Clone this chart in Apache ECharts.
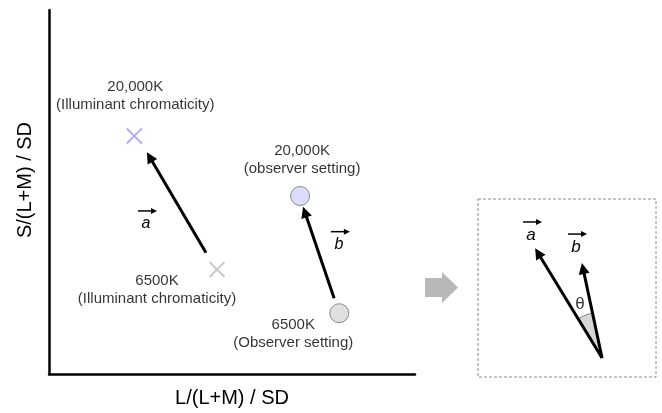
<!DOCTYPE html>
<html>
<head>
<meta charset="utf-8">
<script src="https://cdn.jsdelivr.net/npm/echarts@6/dist/echarts.min.js"></script>
<style>
  html, body { margin: 0; padding: 0; background: #fff; }
  #chart { width: 662px; height: 413px; }
</style>
</head>
<body>
<div id="chart"></div>
<script>
// left panel: both axes run 0..100 (no ticks shown)
const illumPts = [[23.3, 65.4], [45.9, 28.7]];
const illumNames = ['20,000K\n(Illuminant chromaticity)', '6500K\n(Illuminant chromaticity)'];
const observerPts = [[68.6, 48.9], [79.3, 16.7]];
const observerNames = ['20,000K\n(observer setting)', '6500K\n(Observer setting)'];
const vecA = [[42.9, 33.3], [27.5, 59.6]];
const vecB = [[77.9, 20.8], [69.9, 44.5]];
const vecMarks = [[26.5, 44.8], [79.2, 39.1]];
const vecMarkNames = ['a', 'b'];

// right panel (inset), also 0..100
const insetOrigin = [69.7, 10.7];
const insetA = [33.7, 69.7];
const insetB = [59.0, 61.0];
const insetMarks = [[29.8, 87.1], [55.1, 80.3]];
const thetaPos = [57.3, 41.0];
const bigArrowPos = [-20.5, 50.3];

const FONT = 'Liberation Sans';

const illumColors = ['#9d9df0', '#bcbcbc'];
const obsColors = ['#d3d3fb', '#d8d8d8'];
const illumOffsets = [[1, -40], [-60, 20]];
const obsOffsets = [[2, -36], [-46, 21]];

function textItems(pts, names, offsets, colors, key) {
  return pts.map((p, i) => ({
    value: p,
    name: names[i],
    itemStyle: key === 'cross'
      ? { color: 'rgba(0,0,0,0)', borderColor: colors[i], borderWidth: 2 }
      : { color: colors[i], borderColor: '#707070', borderWidth: 1 },
    label: { offset: offsets[i] }
  }));
}

// small arrow drawn over the vector letter
function vecLabelRenderer(names, size) {
  return function (params, api) {
    const p = api.coord([api.value(0), api.value(1)]);
    const x = p[0], y = p[1];
    return {
      type: 'group',
      children: [
        { type: 'line', shape: { x1: x - 8, y1: y, x2: x + 6, y2: y },
          style: { stroke: '#000', lineWidth: 1.5 } },
        { type: 'polygon', shape: { points: [[x + 11, y], [x + 5, y - 3], [x + 5, y + 3]] },
          style: { fill: '#000' } },
        { type: 'text', style: { x: x, y: y + 13, text: names[params.dataIndex],
          font: 'italic ' + size + 'px ' + FONT, fill: '#000', align: 'center', verticalAlign: 'middle' } }
      ]
    };
  };
}

const arrowStyle = { color: '#000', width: 3, opacity: 1, curveness: 0 };
const labelStyle = { show: true, position: 'inside', formatter: '{b}', fontSize: 15, lineHeight: 18,
  color: '#000', fontFamily: FONT, align: 'center', verticalAlign: 'middle' };

const option = {
  animation: false,
  backgroundColor: '#fff',
  textStyle: { fontFamily: FONT },
  grid: [
    { left: 49, top: 10, width: 366, height: 366 },
    { left: 478, top: 199, width: 178, height: 178, show: true,
      borderColor: '#8c8c8c', borderWidth: 1, borderType: [3, 2], backgroundColor: '#fff' }
  ],
  xAxis: [
    { type: 'value', gridIndex: 0, min: 0, max: 100,
      name: 'L/(L+M) / SD', nameLocation: 'middle', nameGap: 14,
      nameTextStyle: { fontSize: 20, color: '#000', fontFamily: FONT },
      axisLine: { lineStyle: { color: '#000', width: 2.5 } },
      axisTick: { show: false }, axisLabel: { show: false }, splitLine: { show: false } },
    { type: 'value', gridIndex: 1, min: 0, max: 100, show: false }
  ],
  yAxis: [
    { type: 'value', gridIndex: 0, min: 0, max: 100,
      name: 'S/(L+M) / SD', nameLocation: 'middle', nameGap: 14,
      nameTextStyle: { fontSize: 20, color: '#000', fontFamily: FONT, padding: [0, 0, 0, 24] },
      axisLine: { lineStyle: { color: '#000', width: 2.5 } },
      axisTick: { show: false }, axisLabel: { show: false }, splitLine: { show: false } },
    { type: 'value', gridIndex: 1, min: 0, max: 100, show: false }
  ],
  series: [
    {
      type: 'scatter', xAxisIndex: 0, yAxisIndex: 0,
      symbol: 'path://M0,0L20,20M20,0L0,20', symbolSize: 15,
      data: textItems(illumPts, illumNames, illumOffsets, illumColors, 'cross'),
      label: labelStyle
    },
    {
      type: 'scatter', xAxisIndex: 0, yAxisIndex: 0,
      symbol: 'circle', symbolSize: 19,
      data: textItems(observerPts, observerNames, obsOffsets, obsColors, 'circle'),
      label: labelStyle
    },
    {
      type: 'lines', coordinateSystem: 'cartesian2d', xAxisIndex: 0, yAxisIndex: 0,
      symbol: ['none', 'triangle'], symbolSize: 11,
      lineStyle: arrowStyle,
      data: [{ coords: vecA }, { coords: vecB }]
    },
    {
      type: 'custom', xAxisIndex: 0, yAxisIndex: 0,
      renderItem: vecLabelRenderer(vecMarkNames, 16),
      data: vecMarks
    },
    // inset
    {
      type: 'custom', xAxisIndex: 1, yAxisIndex: 1,
      renderItem: function (params, api) {
        const o = api.coord([api.value(0), api.value(1)]);
        const a = api.coord([api.value(2), api.value(3)]);
        const b = api.coord([api.value(4), api.value(5)]);
        return {
          type: 'sector',
          shape: { cx: o[0], cy: o[1], r0: 0, r: 46,
            startAngle: Math.atan2(a[1] - o[1], a[0] - o[0]),
            endAngle: Math.atan2(b[1] - o[1], b[0] - o[0]), clockwise: true },
          style: { fill: '#d6d6d6', stroke: '#8a8a8a', lineWidth: 1 }
        };
      },
      data: [insetOrigin.concat(insetA, insetB)]
    },
    {
      type: 'lines', coordinateSystem: 'cartesian2d', xAxisIndex: 1, yAxisIndex: 1,
      symbol: ['none', 'triangle'], symbolSize: 11,
      lineStyle: arrowStyle,
      data: [{ coords: [insetOrigin, insetA] }, { coords: [insetOrigin, insetB] }]
    },
    {
      type: 'custom', xAxisIndex: 1, yAxisIndex: 1,
      renderItem: vecLabelRenderer(vecMarkNames, 17),
      data: insetMarks
    },
    {
      type: 'scatter', xAxisIndex: 1, yAxisIndex: 1, symbolSize: 0,
      data: [{ value: thetaPos, name: 'θ' }],
      label: { show: true, position: 'inside', formatter: '{b}', fontSize: 17,
        color: '#000', fontFamily: FONT }
    },
    {
      type: 'scatter', xAxisIndex: 1, yAxisIndex: 1, clip: false,
      symbol: 'path://M0,6L17,6L17,0L33,15.5L17,31L17,25L0,25Z', symbolSize: [33, 31],
      itemStyle: { color: '#a6a6a6' },
      data: [bigArrowPos]
    }
  ]
};

const chart = echarts.init(document.getElementById('chart'));
chart.setOption(option);
</script>
</body>
</html>
